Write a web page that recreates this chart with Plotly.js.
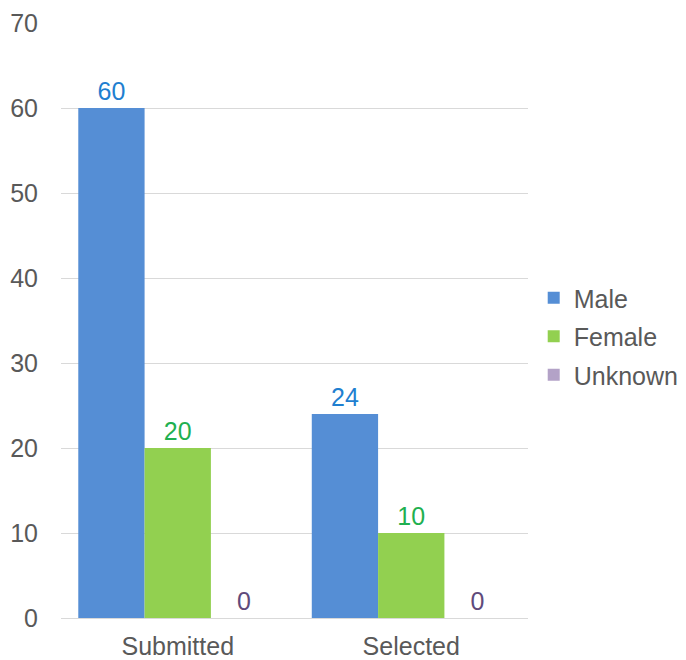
<!DOCTYPE html>
<html>
<head>
<meta charset="utf-8">
<script src="https://cdn.plot.ly/plotly-3.0.1.min.js"></script>
<style>html,body{margin:0;padding:0;background:#fff;}#chart{width:686px;height:660px;}</style>
</head>
<body>
<div id="chart"></div>
<script>
const categories = ["Submitted", "Selected"];
const seriesNames = ["Male", "Female", "Unknown"];
const maleValues = [60, 24];
const femaleValues = [20, 10];
const unknownValues = [0, 0];
const yTicks = [0, 10, 20, 30, 40, 50, 60, 70];

const barColors = ["#558ed5", "#92d050", "#b3a2c7"];
const labelColors = ["#1f7fd0", "#1fb050", "#604a7b"];
const allValues = [maleValues, femaleValues, unknownValues];
const FONT = "Liberation Sans, Arial, sans-serif";

const traces = allValues.map((vals, i) => ({
  type: "bar",
  name: seriesNames[i],
  x: categories,
  y: vals,
  text: vals.map(v => String(v)),
  textposition: "outside",
  cliponaxis: false,
  outsidetextfont: {color: labelColors[i], size: 25, family: FONT},
  marker: {color: barColors[i], line: {width: 0}},
  legendgroup: "g" + i,
  hoverinfo: "none"
}));

const layout = {
  width: 686, height: 660,
  margin: {l: 61, r: 158, t: 23, b: 42, autoexpand: false},
  paper_bgcolor: "#ffffff",
  plot_bgcolor: "#ffffff",
  font: {family: FONT, color: "#595959", size: 25},
  barmode: "group",
  bargap: 0.148,
  bargroupgap: 0,
  showlegend: true,
  legend: {
    xref: "container", yref: "container",
    x: 0.778, xanchor: "left",
    y: 0.49, yanchor: "middle",
    font: {size: 25, color: "#595959", family: FONT},
    tracegroupgap: 3,
    itemwidth: 30
  },
  xaxis: {
    showgrid: false,
    showline: true,
    linecolor: "#d9d9d9",
    linewidth: 1,
    ticks: "",
    automargin: false,
    ticklabelstandoff: 6,
    tickfont: {size: 25, color: "#595959", family: FONT},
    fixedrange: true
  },
  yaxis: {
    range: [0, 70],
    tickvals: yTicks,
    showgrid: true,
    gridcolor: "#d9d9d9",
    gridwidth: 1,
    zeroline: false,
    showline: false,
    ticks: "",
    automargin: false,
    ticklabelstandoff: 22,
    tickfont: {size: 25, color: "#595959", family: FONT},
    fixedrange: true
  }
};

Plotly.newPlot("chart", traces, layout, {displayModeBar: false, staticPlot: true});
</script>
</body>
</html>
